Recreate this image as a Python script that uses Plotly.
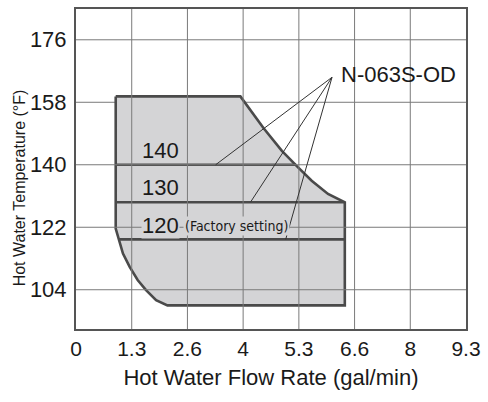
import plotly.graph_objects as go

# ---- data ----
x_tick_vals = [0, 1.3286, 2.6571, 3.9857, 5.3143, 6.6429, 7.9714, 9.3]
x_tick_text = ["0", "1.3", "2.6", "4", "5.3", "6.6", "8", "9.3"]
y_tick_vals = [104, 122, 140, 158, 176]

# operating range outline (gal/min, °F)
range_x = [0.947, 3.92, 4.47, 4.91, 5.26, 5.62, 6.01, 6.39, 6.41, 6.41,
           2.18, 1.91, 1.67, 1.47, 1.28, 1.12, 1.00, 0.947, 0.947]
range_y = [159.7, 159.7, 150.6, 144.0, 139.7, 135.4, 131.6, 129.2, 129.2, 99.5,
           99.5, 101.0, 103.9, 106.8, 110.6, 114.4, 119.1, 121.6, 159.7]

# set-temperature lines
levels = [140, 129.2, 118.5]
level_labels = ["140", "130", "120"]
level_x_start = [0.947, 0.947, 1.02]
level_x_end = [5.25, 6.41, 6.41]

model_name = "N-063S-OD"
leader_x = [3.33, 4.16, 5.0]

FILL = "#d4d4d6"
EDGE = "#4a4a4a"
GRID = "#7a7a7a"
TXT = "#1a1a1a"
FONT = "Liberation Sans, Arial, sans-serif"

fig = go.Figure()

fig.add_trace(go.Scatter(x=range_x, y=range_y, mode="lines", fill="toself",
                         fillcolor=FILL, line=dict(color=FILL, width=0),
                         hoverinfo="skip", showlegend=False))

shapes = []
# gridlines (drawn above the fill)
for xv in x_tick_vals[1:-1]:
    shapes.append(dict(type="line", xref="x", yref="paper", x0=xv, x1=xv, y0=0, y1=1,
                       line=dict(color=GRID, width=1), layer="above"))
for yv in y_tick_vals:
    shapes.append(dict(type="line", xref="paper", yref="y", x0=0, x1=1, y0=yv, y1=yv,
                       line=dict(color=GRID, width=1),
                       layer="below" if yv == 158 else "above"))

fig.update_layout(shapes=shapes)

# outline of the range
fig.add_trace(go.Scatter(x=range_x, y=range_y, mode="lines",
                         line=dict(color=EDGE, width=2.6), hoverinfo="skip",
                         showlegend=False))
# level lines
for lv, xs, xe in zip(levels, level_x_start, level_x_end):
    fig.add_trace(go.Scatter(x=[xs, xe], y=[lv, lv], mode="lines",
                             line=dict(color=EDGE, width=2.6), hoverinfo="skip",
                             showlegend=False))

# leader lines from the model name
apex_x, apex_y = 6.105, 165.2
for lx, lv in zip(leader_x, levels):
    fig.add_shape(type="line", xref="x", yref="y", x0=apex_x, y0=apex_y, x1=lx, y1=lv,
                  line=dict(color="#333333", width=1), layer="above")

annotations = []
label_y = [144.0, 133.5, 122.6]
for lab, ly in zip(level_labels, label_y):
    annotations.append(dict(x=1.55, y=ly, xref="x", yref="y", text=lab, showarrow=False,
                            xanchor="left", yanchor="middle",
                            font=dict(family=FONT, size=22, color=TXT),
                            bgcolor=FILL if lab == "120" else None, borderpad=0))
annotations.append(dict(x=2.56, y=122.3, xref="x", yref="y", text="(Factory setting)",
                        showarrow=False, xanchor="left", yanchor="middle",
                        font=dict(family="Liberation Sans Narrow, DejaVu Sans Condensed, sans-serif",
                                  size=14, color=TXT),
                        bgcolor=FILL, borderpad=1))
annotations.append(dict(x=6.26, y=165.9, xref="x", yref="y", text=model_name,
                        showarrow=False, xanchor="left", yanchor="middle",
                        font=dict(family=FONT, size=22, color=TXT)))
annotations.append(dict(x=-0.1463, y=0.4425, xref="paper", yref="paper",
                        text="Hot Water Temperature (°F)", textangle=-90,
                        showarrow=False, xanchor="center", yanchor="middle",
                        font=dict(family=FONT, size=16, color=TXT)))
fig.update_layout(annotations=annotations)

fig.update_layout(
    width=488, height=402,
    margin=dict(l=76, r=19, t=7, b=73),
    paper_bgcolor="white", plot_bgcolor="white",
    font=dict(family=FONT, color=TXT),
    xaxis=dict(range=[0, 9.3], tickvals=x_tick_vals, ticktext=x_tick_text,
               showgrid=False, zeroline=False, showline=True, mirror=True,
               linecolor="#555555", linewidth=2, ticks="",
               tickfont=dict(size=21, color=TXT),
               title=dict(text="Hot Water Flow Rate (gal/min)",
                          font=dict(size=22, color=TXT), standoff=10)),
    yaxis=dict(range=[92.69, 184.87], tickvals=y_tick_vals,
               showgrid=False, zeroline=False, showline=True, mirror=True,
               linecolor="#555555", linewidth=2, ticks="",
               tickfont=dict(size=22, color=TXT), ticklabelstandoff=3),
)

fig.write_html("out.html",
               config={"displayModeBar": False, "staticPlot": True},
               post_script="document.body.style.margin='0';document.body.style.overflow='hidden';")
